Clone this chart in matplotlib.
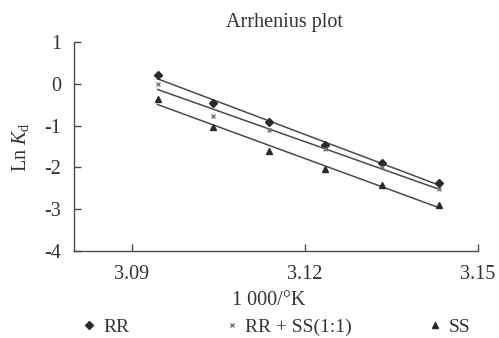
"""Arrhenius plot of Ln Kd against 1000/T for RR, RR+SS and SS."""

import numpy as np
import matplotlib
matplotlib.use('Agg')
import matplotlib.pyplot as plt
from matplotlib.lines import Line2D

plt.rcParams['font.family'] = ['Liberation Serif', 'DejaVu Serif']
plt.rcParams['mathtext.fontset'] = 'custom'
plt.rcParams['mathtext.rm'] = 'Liberation Serif'
plt.rcParams['mathtext.it'] = 'Liberation Serif:italic'

# 1000/T values (T = 50 ... 45 degC)
inv_temp = [3.0945, 3.1041, 3.1138, 3.1235, 3.1333, 3.1432]

ln_kd_rr = [0.21, -0.45, -0.91, -1.46, -1.89, -2.37]
ln_kd_mix = [0.0, -0.77, -1.10, -1.56, -1.99, -2.51]
ln_kd_ss = [-0.36, -1.03, -1.60, -2.03, -2.42, -2.89]

labels = ['RR', 'RR + SS(1:1)', 'SS']
x_ticks = [3.09, 3.12, 3.15]
y_ticks = [1, 0, -1, -2, -3, -4]

DARK = '#2b2b2b'
LINE = '#4a4a4a'
TEXT = '#333333'

fig = plt.figure(figsize=(4.99, 3.38), dpi=100)
ax = fig.add_axes([0.148, 0.257, 0.810, 0.619])

series = [
    (ln_kd_rr, 'D', DARK, 4.5),
    (ln_kd_mix, 'x', '#777777', 3.5),
    (ln_kd_ss, '^', DARK, 4.5),
]

handles = []
xs = np.array(inv_temp)
for (vals, marker, color, size), label in zip(series, labels):
    # linear trend line over the measured range
    slope, icpt = np.polyfit(xs, vals, 1)
    ax.plot(xs, slope * xs + icpt, color=LINE, lw=1.1, zorder=2)
    ax.plot(xs, vals, ls='none', marker=marker, ms=size, color=color,
            mec=color, mew=1.0, zorder=3)
    handles.append(Line2D([], [], ls='none', marker=marker, ms=size - 0.5,
                          color=color, mec=color, mew=1.0, label=label))

ax.set_xlim(3.08, 3.15)
ax.set_ylim(-4, 1)
ax.set_xticks(x_ticks)
ax.set_xticklabels(['3.09', '3.12', '3.15'])
ax.set_yticks(y_ticks)
ax.set_yticklabels([str(v) for v in y_ticks])

for side in ['top', 'right']:
    ax.spines[side].set_visible(False)
for side in ['left', 'bottom']:
    ax.spines[side].set_color(LINE)
    ax.spines[side].set_linewidth(1.0)

ax.tick_params(direction='in', length=5, width=1.0, color=LINE,
               labelsize=14.5, labelcolor=TEXT)
ax.tick_params(axis='x', pad=10)
ax.tick_params(axis='y', pad=9)

ax.set_title('Arrhenius plot', fontsize=14.5, color=TEXT, x=0.52, pad=11)
fig.text(0.539, 0.112, '1 000/°K', fontsize=14.5, color=TEXT,
         ha='center', va='center')
fig.text(0.042, 0.566, r'Ln $K_\mathrm{d}$', fontsize=14.5, color=TEXT,
         rotation=90, ha='center', va='center')

# one legend per entry to mimic the uneven spacing
legend_x = [0.144, 0.429, 0.836]
for handle, lx in zip(handles, legend_x):
    fig.legend(handles=[handle], loc='center left',
               bbox_to_anchor=(lx, 0.032), frameon=False, fontsize=14,
               handlelength=0.8, handletextpad=0.3, borderpad=0,
               labelcolor=TEXT)

fig.savefig('out.png', dpi=100)
